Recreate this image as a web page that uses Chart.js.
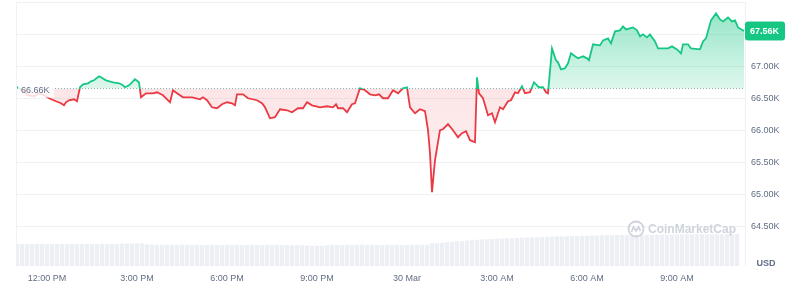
<!DOCTYPE html>
<html>
<head>
<meta charset="utf-8">
<style>
  html, body { margin: 0; padding: 0; background: #fff; }
</style>
</head>
<body>
<canvas id="price-chart" width="812" height="300"></canvas>
<script src="https://cdn.jsdelivr.net/npm/chart.js"></script>
<script>
// BTC / USD, 29 Mar 10:58 -> 30 Mar 11:14
const times = [
  '10:58','11:10','11:22','11:34','11:44','11:54','12:04','12:18','12:28','12:34','12:38','12:44',
  '12:54','13:00','13:06','13:12','13:22','13:28','13:34','13:44','13:48','13:58','14:12','14:24',
  '14:32','14:36','14:44','14:52','14:56','15:04','15:08','15:18','15:32','15:40','15:52','16:06',
  '16:12','16:20','16:32','16:50','17:06','17:12','17:20','17:30','17:40','17:50','18:00','18:10',
  '18:16','18:20','18:32','18:42','19:00','19:10','19:16','19:26','19:36','19:46','20:00','20:10',
  '20:22','20:32','20:40','20:50','21:06','21:20','21:32','21:38','21:42','21:52','22:00','22:10',
  '22:16','22:26','22:36','22:46','22:56','23:04','23:12','23:22','23:32','23:42','23:52','00:00',
  '00:06','00:16','00:26','00:36','00:42','00:46','00:50','00:56','01:06','01:12','01:22','01:32',
  '01:42','01:50','01:58','02:06','02:16','02:20','02:24','02:32','02:42','02:50','02:56','03:06',
  '03:12','03:22','03:28','03:36','03:42','03:50','03:56','04:06','04:14','04:24','04:32','04:38',
  '04:42','04:50','04:58','05:02','05:08','05:16','05:22','05:28','05:36','05:42','05:52','06:00',
  '06:04','06:12','06:26','06:32','06:42','06:48','06:56','07:06','07:12','07:18','07:32','07:40',
  '07:46','07:52','08:00','08:06','08:16','08:22','08:42','08:50','09:00','09:08','09:12','09:22',
  '09:28','09:46','09:52','09:58','10:08','10:18','10:26','10:32','10:42','10:50','10:56','11:02',
  '11:14'
];
const prices = [
  66690, 66633, 66555, 66539, 66586, 66555, 66508, 66461, 66430, 66398, 66445, 66477,
  66492, 66461, 66680, 66727, 66742, 66773, 66789, 66852, 66836, 66789, 66758, 66742,
  66711, 66680, 66711, 66773, 66805, 66758, 66523, 66586, 66586, 66602, 66555, 66445,
  66633, 66586, 66523, 66523, 66492, 66523, 66477, 66367, 66352, 66414, 66445, 66430,
  66398, 66570, 66570, 66508, 66477, 66430, 66367, 66195, 66211, 66336, 66320, 66289,
  66352, 66352, 66445, 66398, 66367, 66383, 66367, 66414, 66352, 66352, 66289, 66414,
  66430, 66664, 66633, 66570, 66555, 66570, 66508, 66508, 66633, 66586, 66664, 66680,
  66367, 66273, 66336, 66305, 66008, 65648, 65039, 65539, 66008, 66023, 66102, 66008,
  65898, 65961, 65992, 65852, 65820, 66836, 66586, 66508, 66242, 66273, 66133, 66367,
  66336, 66461, 66477, 66602, 66586, 66695, 66586, 66602, 66758, 66680, 66680, 66602,
  66586, 67289, 67102, 67070, 66961, 66977, 67055, 67211, 67164, 67133, 67164, 67133,
  67102, 67352, 67336, 67414, 67445, 67367, 67555, 67570, 67633, 67586, 67617, 67570,
  67477, 67508, 67461, 67508, 67398, 67289, 67289, 67320, 67273, 67211, 67352, 67352,
  67289, 67273, 67398, 67445, 67727, 67836, 67742, 67711, 67773, 67711, 67727, 67617,
  67560
];
const openPrice = 66660;

// volume (bn USD), one bar every 10 min from 11:00
const volStart = '11:00';
const volStep = 10;
const volumes = [
  25.0, 25.1, 24.9, 25.0, 25.2, 25.0, 24.8, 25.0, 25.1, 25.0, 24.9, 25.0,
  25.0, 25.1, 25.0, 24.9, 25.0, 25.2, 25.1, 25.0, 25.0, 25.3, 25.5, 25.6,
  25.8, 25.4, 24.4, 24.0, 23.9, 23.9, 24.0, 23.8, 23.9, 24.0, 23.9, 23.8,
  23.9, 23.8, 23.9, 24.0, 23.8, 23.7, 23.8, 23.9, 23.8, 23.7, 23.8, 23.8,
  23.7, 23.8, 23.9, 23.8, 23.7, 23.8, 23.7, 23.6, 23.7, 23.6, 23.2, 23.1,
  23.0, 23.1, 23.6, 23.8, 23.9, 23.8, 23.9, 23.8, 23.9, 24.0, 23.9, 23.8,
  23.9, 23.8, 23.9, 23.8, 23.9, 23.9, 23.8, 23.9, 24.0, 23.9, 24.0, 25.8,
  26.0, 26.4, 27.0, 27.6, 28.0, 28.5, 29.0, 29.4, 29.8, 30.1, 30.3, 30.6,
  30.9, 31.2, 31.4, 31.6, 31.9, 32.1, 32.3, 32.5, 32.7, 32.9, 33.1, 33.3,
  33.4, 33.6, 33.8, 34.0, 34.1, 34.3, 34.4, 34.6, 34.7, 34.8, 34.9, 35.0,
  35.1, 35.2, 35.2, 35.3, 35.4, 35.4, 35.5, 35.5, 35.6, 35.6, 35.7, 35.7,
  35.8, 35.8, 35.9, 35.9, 36.0, 36.0, 36.0, 36.1, 36.1, 36.1, 36.2, 36.2,
  36.2
];

// axis window: first time, then last time (next day)
const xRange = ['10:58', '00:00', '11:18'];
const xTickTimes = ['12:00', '15:00', '18:00', '21:00', '00:00', '03:00', '06:00', '09:00'];
const xTickLabels = ['12:00 PM', '3:00 PM', '6:00 PM', '9:00 PM', '30 Mar', '3:00 AM', '6:00 AM', '9:00 AM'];
const yTicks = [64500, 65000, 65500, 66000, 66500, 67000, 67500];
const yLabelled = [64500, 65000, 65500, 66000, 66500, 67000];
const yRange = [63883, 67883];

const GREEN = '#16c784';
const RED = '#ea3943';
const TEXT = '#616e85';

// "HH:MM" list -> minutes since 29 Mar 00:00, rolling over midnight
const toMinutes = (list) => {
  let day = 0, prev = -1;
  return list.map(s => {
    const [h, m] = s.split(':').map(Number);
    let t = h * 60 + m + day * 1440;
    if (t < prev) { day++; t += 1440; }
    prev = t;
    return t;
  });
};

const priceMin = toMinutes(times);
const tickMin = toMinutes(xTickTimes);
const rangeAll = toMinutes(xRange);
const rangeMin = [rangeAll[0], rangeAll[2]];
const volT0 = toMinutes([volStart])[0];

const fmtK = v => (v / 1000).toFixed(2) + 'K';

// vertical gradient with a hard stop at the open price
const splitGradient = (chart, top, mid1, mid2, bottom) => {
  const area = chart.chartArea;
  const yScale = chart.scales && chart.scales.y;
  if (!area || !yScale) return mid2;
  const y0 = yScale.getPixelForValue(openPrice);
  let s = (y0 - area.top) / (area.bottom - area.top);
  if (!isFinite(s)) return mid2;
  s = Math.min(Math.max(s, 0), 1);
  const g = chart.ctx.createLinearGradient(0, area.top, 0, area.bottom);
  g.addColorStop(0, top);
  g.addColorStop(s, mid1);
  g.addColorStop(s, mid2);
  g.addColorStop(1, bottom);
  return g;
};

const overlay = {
  id: 'overlay',
  afterDraw(chart) {
    const { ctx, chartArea: a, scales } = chart;
    ctx.save();

    // frame
    ctx.strokeStyle = '#eff2f5';
    ctx.lineWidth = 1;
    ctx.beginPath();
    ctx.moveTo(a.left + 0.5, 2);
    ctx.lineTo(a.left + 0.5, a.bottom);
    ctx.moveTo(a.right - 0.5, 2);
    ctx.lineTo(a.right - 0.5, a.bottom);
    ctx.moveTo(a.left, 2.5);
    ctx.lineTo(a.right, 2.5);
    ctx.stroke();

    // watermark
    ctx.strokeStyle = '#cfd4dc';
    ctx.fillStyle = '#cfd4dc';
    ctx.lineWidth = 1.8;
    const cx = a.right - 110, cy = 229;
    ctx.beginPath();
    ctx.arc(cx, cy, 7.5, 0, Math.PI * 2);
    ctx.stroke();
    ctx.beginPath();
    ctx.moveTo(cx - 4.5, cy + 3);
    ctx.lineTo(cx - 2.5, cy - 2);
    ctx.lineTo(cx, cy + 2);
    ctx.lineTo(cx + 2.5, cy - 2);
    ctx.lineTo(cx + 4.5, cy + 2);
    ctx.stroke();
    ctx.font = 'bold 12px Arial, "Liberation Sans", sans-serif';
    ctx.textBaseline = 'middle';
    ctx.textAlign = 'left';
    ctx.fillText('CoinMarketCap', cx + 12, cy + 0.5);

    // open price tag
    const yOpen = scales.y.getPixelForValue(openPrice);
    ctx.fillStyle = 'rgba(255,255,255,0.82)';
    ctx.fillRect(a.left + 2, yOpen - 7, 36, 16);
    ctx.fillStyle = TEXT;
    ctx.font = '9px Arial, "Liberation Sans", sans-serif';
    ctx.fillText(fmtK(openPrice), a.left + 5, yOpen + 2);

    // last price badge
    const last = prices[prices.length - 1];
    const yLast = scales.y.getPixelForValue(last);
    ctx.fillStyle = GREEN;
    ctx.beginPath();
    if (ctx.roundRect) ctx.roundRect(a.right - 1, yLast - 9.5, 40, 19, 3);
    else ctx.rect(a.right - 1, yLast - 9.5, 40, 19);
    ctx.fill();
    ctx.fillStyle = '#fff';
    ctx.font = 'bold 9px Arial, "Liberation Sans", sans-serif';
    ctx.fillText(fmtK(last), a.right + 4, yLast + 0.5);

    // unit
    ctx.fillStyle = TEXT;
    ctx.textAlign = 'center';
    ctx.fillText('USD', a.right + 20, a.bottom - 2);
    ctx.restore();
  }
};

Chart.defaults.font.family = 'Arial, "Liberation Sans", sans-serif';

new Chart(document.getElementById('price-chart'), {
  type: 'line',
  data: {
    datasets: [
      {
        label: 'Price',
        data: priceMin.map((t, i) => ({ x: t, y: prices[i] })),
        order: 1,
        borderWidth: 1.8,
        pointRadius: 0,
        tension: 0,
        borderColor: (c) => splitGradient(c.chart, GREEN, GREEN, RED, RED),
        backgroundColor: (c) => splitGradient(c.chart, 'rgba(22,199,132,0.45)', 'rgba(22,199,132,0.14)',
                                             'rgba(234,57,67,0.13)', 'rgba(234,57,67,0.02)'),
        fill: { value: openPrice }
      },
      {
        label: 'Open',
        data: rangeMin.map(t => ({ x: t, y: openPrice })),
        order: 2,
        borderColor: '#a3abbb',
        borderWidth: 1,
        borderDash: [1, 2],
        pointRadius: 0,
        fill: false
      },
      {
        type: 'bar',
        label: 'Volume',
        data: volumes.map((v, i) => ({ x: volT0 + i * volStep, y: v })),
        yAxisID: 'yv',
        order: 3,
        backgroundColor: '#eceff3',
        categoryPercentage: 1,
        barPercentage: 0.85
      }
    ]
  },
  options: {
    responsive: false,
    animation: false,
    layout: { autoPadding: false, padding: { left: 16, top: 2, right: 0, bottom: 0 } },
    plugins: { legend: { display: false }, tooltip: { enabled: false } },
    scales: {
      x: {
        type: 'linear',
        offset: false,
        min: rangeMin[0],
        max: rangeMin[1],
        grid: { display: false, drawTicks: false, offset: false },
        border: { display: false },
        afterBuildTicks: s => { s.ticks = tickMin.map(v => ({ value: v })); },
        afterFit: s => { s.height = 34; },
        ticks: {
          padding: 7,
          color: TEXT,
          font: { size: 9 },
          maxRotation: 0,
          autoSkip: false,
          callback: v => { const i = tickMin.indexOf(v); return i >= 0 ? xTickLabels[i] : ''; }
        }
      },
      y: {
        position: 'right',
        min: yRange[0],
        max: yRange[1],
        grid: { color: '#eff2f5', drawTicks: false },
        border: { display: false },
        afterBuildTicks: s => { s.ticks = yTicks.map(v => ({ value: v })); },
        afterFit: s => { s.width = 66; },
        ticks: {
          padding: 5,
          color: TEXT,
          font: { size: 9 },
          callback: v => yLabelled.includes(v) ? fmtK(v) : ''
        }
      },
      yv: { display: false, min: 0, max: 290 }
    }
  },
  plugins: [overlay]
});
</script>
</body>
</html>
